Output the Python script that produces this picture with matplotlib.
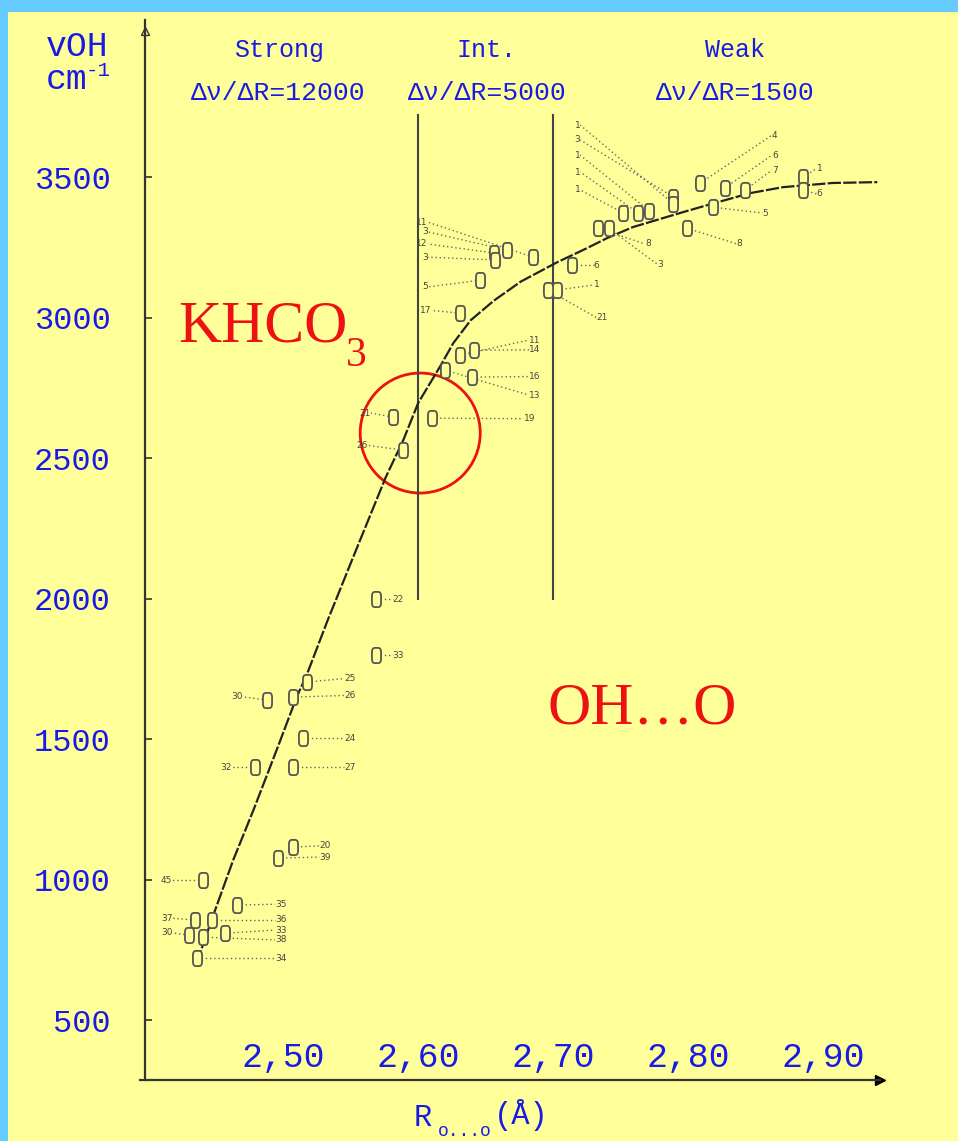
import numpy as np
import matplotlib.pyplot as plt
from matplotlib.patches import Ellipse, Rectangle

W, H = 958, 1141
BLUE = "#1a1ae6"
RED = "#ee1111"
INK = "#333333"
GREY = "#666666"
MONO = "Liberation Mono"
SERIF = "Liberation Serif"

# fitted curve nu(OH) against R(O...O)
curve_r = [2.436, 2.447, 2.463, 2.478, 2.496, 2.510, 2.518, 2.533, 2.551,
           2.557, 2.576, 2.589, 2.600, 2.616, 2.626, 2.639, 2.656, 2.676,
           2.703, 2.725, 2.740, 2.759, 2.796, 2.814, 2.846, 2.870, 2.907,
           2.940]
curve_nu = [703, 856, 1069, 1247, 1471, 1649, 1735, 1923, 2137,
            2208, 2432, 2564, 2696, 2824, 2909, 2991, 3060, 3128,
            3197, 3247, 3283, 3322, 3375, 3400, 3443, 3464, 3479,
            3482]

# measured compounds: R, nu, number, and where the number sits
pt_r = [2.569, 2.569, 2.518, 2.507, 2.488, 2.515, 2.479, 2.507, 2.496, 2.507,
        2.441, 2.466, 2.435, 2.447, 2.430, 2.457, 2.441, 2.436,
        2.631, 2.631, 2.641, 2.640, 2.620, 2.581, 2.610, 2.589,
        2.656, 2.666, 2.657, 2.685, 2.646,
        2.714, 2.703, 2.696, 2.733, 2.741, 2.752, 2.763, 2.771, 2.789, 2.789,
        2.809, 2.827, 2.842, 2.818, 2.799, 2.885, 2.885]
pt_nu = [1998, 1799, 1703, 1649, 1639, 1503, 1400, 1400, 1076, 1115,
         998, 909, 856, 856, 802, 809, 795, 720,
         3016, 2866, 2884, 2788, 2813, 2646, 2642, 2528,
         3230, 3240, 3205, 3215, 3133,
         3187, 3098, 3098, 3318, 3318, 3372, 3372, 3380, 3429, 3405,
         3479, 3461, 3454, 3393, 3318, 3500, 3454]
pt_lab = ["22", "33", "25", "26", "30", "24", "32", "27", "39", "20",
          "45", "35", "37", "36", "30", "33", "38", "34",
          "17", "11", "14", "16", "13", "21", "19", "26",
          "12", "3", "3", "11", "5",
          "6", "1", "21", "8", "3", "1", "1", "1", "3", "1",
          "4", "6", "7", "5", "8", "1", "6"]
lab_r = [2.581, 2.581, 2.545, 2.545, 2.470, 2.545, 2.462, 2.545, 2.527, 2.527,
         2.418, 2.494, 2.418, 2.494, 2.418, 2.494, 2.494, 2.494,
         2.610, 2.682, 2.682, 2.682, 2.682, 2.565, 2.678, 2.563,
         2.607, 2.607, 2.607, 2.607, 2.607,
         2.730, 2.730, 2.732, 2.768, 2.777, 2.720, 2.720, 2.720, 2.720, 2.720,
         2.862, 2.862, 2.862, 2.855, 2.836, 2.895, 2.895]
lab_nu = [1998, 1799, 1715, 1655, 1650, 1503, 1400, 1400, 1080, 1120,
          998, 912, 862, 856, 810, 820, 785, 720,
          3025, 2920, 2885, 2790, 2724, 2660, 2640, 2545,
          3262, 3305, 3215, 3340, 3109,
          3187, 3116, 3000, 3262, 3190, 3454, 3518, 3578, 3632, 3685,
          3649, 3578, 3525, 3372, 3262, 3530, 3440]

x_ticks = [2.50, 2.60, 2.70, 2.80, 2.90]
x_ticklabels = ["2,50", "2,60", "2,70", "2,80", "2,90"]
y_ticks = [500, 1000, 1500, 2000, 2500, 3000, 3500]

# region boundaries (Strong | Int. | Weak)
bounds_r = [2.60, 2.70]
bounds_nu = [2000, 3720]


def fp(x, y):
    return x / W, 1 - y / H


fig = plt.figure(figsize=(W / 100, H / 100), dpi=100, facecolor="#66ccff")
bg = Rectangle((8 / W, 0), 950 / W, 1129 / H, transform=fig.transFigure,
               facecolor="#ffff99", edgecolor="none", zorder=-1)
fig.add_artist(bg)

ax = fig.add_axes([140 / W, 1 - 1080 / H, 740 / W, 1060 / H])
ax.set_facecolor("none")
ax.set_xlim(2.394, 2.942)
ax.set_ylim(286.5, 4059)

for s in ["top", "right"]:
    ax.spines[s].set_visible(False)
ax.spines["left"].set_position(("data", 2.398))
ax.spines["left"].set_color(INK)
ax.spines["left"].set_linewidth(1.6)
ax.spines["bottom"].set_color(INK)
ax.spines["bottom"].set_linewidth(1.6)
ax.plot(1, 0, ">", color="black", ms=7, transform=ax.transAxes, clip_on=False)
ax.plot(2.398, 0.99, "^", color=INK, ms=6, mfc="none",
        transform=ax.get_xaxis_transform(), clip_on=False)

ax.set_yticks(y_ticks)
ax.set_yticklabels([str(v) for v in y_ticks], color=BLUE, fontsize=23,
                   family=MONO)
ax.tick_params(axis="y", direction="in", length=5, width=1.2, color=INK, pad=25)

ax.set_xticks(x_ticks)
ax.set_xticklabels(x_ticklabels, color=BLUE, fontsize=25, family=MONO)
ax.tick_params(axis="x", length=0, pad=-4)
for lbl in ax.get_xticklabels():
    lbl.set_verticalalignment("bottom")

for b in bounds_r:
    ax.plot([b, b], bounds_nu, color="#444444", lw=1.5)

ax.plot(curve_r, curve_nu, color="#222222", lw=1.6, dashes=(6, 1.0))

# leaders and numbers
for r, nu, t, lr, ln in zip(pt_r, pt_nu, pt_lab, lab_r, lab_nu):
    ax.plot([r, lr], [nu, ln], color=GREY, lw=1.0, ls=(0, (1, 2)))
    ha = "left" if lr > r else "right"
    ax.text(lr, ln, t, fontsize=6.5, color="#444444", ha=ha, va="center",
            family="DejaVu Sans")

# small rounded-rectangle symbols as in the scan
th = np.linspace(0, 2 * np.pi, 41)
c, s = np.cos(th), np.sin(th)
box = list(zip(0.6 * np.sign(c) * np.abs(c) ** 0.5, np.sign(s) * np.abs(s) ** 0.5))
ax.plot(pt_r, pt_nu, ls="none", marker=box, ms=11, mfc="#ffff99",
        mec="#555555", mew=1.3)

ax.add_patch(Ellipse((2.6015, 2589), 0.0889, 427, fill=False, ec=RED, lw=2))

# headings
kw = dict(color=BLUE, family=MONO, va="baseline")
fig.text(*fp(46, 56), "vOH", fontsize=25, ha="left", **kw)
fig.text(*fp(46, 89), "cm", fontsize=25, ha="left", **kw)
fig.text(*fp(86, 76), "-1", fontsize=15, ha="left", **kw)
fig.text(*fp(279, 57), "Strong", fontsize=18, ha="center", **kw)
fig.text(*fp(278, 100), "Δν/ΔR=12000", fontsize=19, ha="center", **kw)
fig.text(*fp(486, 57), "Int.", fontsize=18, ha="center", **kw)
fig.text(*fp(487, 100), "Δν/ΔR=5000", fontsize=19, ha="center", **kw)
fig.text(*fp(735, 57), "Weak", fontsize=18, ha="center", **kw)
fig.text(*fp(735, 100), "Δν/ΔR=1500", fontsize=19, ha="center", **kw)

fig.text(*fp(414, 1126), "R", fontsize=22, ha="left", **kw)
fig.text(*fp(438, 1136), "o...o", fontsize=13, ha="left", **kw)
fig.text(*fp(494, 1124), "(Å)", fontsize=22, ha="left", **kw)

kw = dict(color=RED, family=SERIF, ha="left", va="baseline")
fig.text(*fp(178, 342), "KHCO", fontsize=43, **kw)
fig.text(*fp(346, 366), "3", fontsize=30, **kw)
fig.text(*fp(547, 724), "OH…O", fontsize=43, **kw)

fig.savefig("out.png", dpi=100, facecolor=fig.get_facecolor())
